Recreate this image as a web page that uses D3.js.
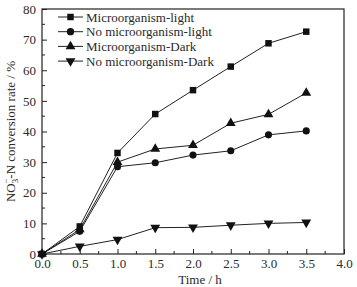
<!DOCTYPE html>
<html>
<head>
<meta charset="utf-8">
<script src="https://cdn.jsdelivr.net/npm/d3@7"></script>
<style>
  body { margin: 0; background: #fff; }
  svg text { font-family: "Liberation Serif", "Times New Roman", serif; fill: #2a2a2a; }
</style>
</head>
<body>
<div id="chart"></div>
<script>
// time points (h)
const times = [0, 0.5, 1.0, 1.5, 2.0, 2.5, 3.0, 3.5];

// conversion rates (%)
const microLight   = [0, 9.0, 33.0, 45.7, 53.5, 61.2, 68.8, 72.6];
const noMicroLight = [0, 7.4, 28.5, 29.8, 32.3, 33.7, 38.9, 40.2];
const microDark    = [0, 8.0, 30.0, 34.3, 35.5, 42.7, 45.6, 52.6];
const noMicroDark  = [0, 2.5, 4.7, 8.6, 8.7, 9.4, 10.0, 10.3];

const seriesNames = ["Microorganism-light", "No microorganism-light", "Microorganism-Dark", "No microorganism-Dark"];
const seriesValues = [microLight, noMicroLight, microDark, noMicroDark];
const seriesSymbols = [d3.symbolSquare, d3.symbolCircle, d3.symbolTriangle, "down"];

const xTicks = [0, 0.5, 1.0, 1.5, 2.0, 2.5, 3.0, 3.5, 4.0];
const yTicks = [0, 10, 20, 30, 40, 50, 60, 70, 80];

const W = 357, H = 287;
const margin = { top: 9, right: 13, bottom: 33, left: 42 };
const width = W - margin.left - margin.right;
const height = H - margin.top - margin.bottom;

const svg = d3.select("#chart").append("svg")
    .attr("width", W)
    .attr("height", H);

const g = svg.append("g")
    .attr("transform", `translate(${margin.left},${margin.top})`);

const x = d3.scaleLinear().domain([0, 4]).range([0, width]);
const y = d3.scaleLinear().domain([0, 80]).range([height, 0]);

// minor ticks
const xMinor = d3.range(0.25, 4, 0.5);
const yMinor = d3.range(5, 80, 10);

g.selectAll(".xminor").data(xMinor).enter().append("line")
    .attr("x1", d => x(d)).attr("x2", d => x(d))
    .attr("y1", height).attr("y2", height - 3)
    .attr("stroke", "#222");
g.selectAll(".yminor").data(yMinor).enter().append("line")
    .attr("x1", 0).attr("x2", 3)
    .attr("y1", d => y(d)).attr("y2", d => y(d))
    .attr("stroke", "#222");

// axes with inward ticks
const xAxis = g.append("g")
    .attr("transform", `translate(0,${height})`)
    .call(d3.axisBottom(x).tickValues(xTicks).tickFormat(d3.format(".1f")).tickSizeInner(-5).tickSizeOuter(0).tickPadding(5));
const yAxis = g.append("g")
    .call(d3.axisLeft(y).tickValues(yTicks).tickSizeInner(-5).tickSizeOuter(0).tickPadding(6));

[xAxis, yAxis].forEach(a => {
    a.select(".domain").remove();
    a.selectAll("line").attr("stroke", "#222");
    a.selectAll("text").style("font-size", "13px").attr("fill", "#2a2a2a");
});

// frame
g.append("rect")
    .attr("width", width).attr("height", height)
    .attr("fill", "none").attr("stroke", "#222").attr("stroke-width", 1.2);

const line = d3.line()
    .x((d, i) => x(times[i]))
    .y(d => y(d));

function symbolPath(s, size) {
    if (s === "down") {
        return d3.symbol().type(d3.symbolTriangle).size(size)();
    }
    return d3.symbol().type(s).size(size)();
}

seriesValues.forEach((vals, k) => {
    g.append("path")
        .datum(vals)
        .attr("fill", "none")
        .attr("stroke", "#222")
        .attr("stroke-width", 1)
        .attr("d", line);

    g.selectAll(".m" + k).data(vals).enter().append("path")
        .attr("transform", (d, i) => `translate(${x(times[i])},${y(d)})` + (seriesSymbols[k] === "down" ? " rotate(180)" : ""))
        .attr("d", symbolPath(seriesSymbols[k], seriesSymbols[k] === d3.symbolCircle ? 40 : 42))
        .attr("fill", "#111");
});

// legend
const legend = g.append("g").attr("transform", "translate(16,8)");
seriesNames.forEach((name, k) => {
    const row = legend.append("g").attr("transform", `translate(0,${k * 14.7})`);
    row.append("line").attr("x1", 0).attr("x2", 25).attr("y1", 0).attr("y2", 0)
        .attr("stroke", "#222");
    row.append("path")
        .attr("transform", "translate(12.5,0)" + (seriesSymbols[k] === "down" ? " rotate(180)" : ""))
        .attr("d", symbolPath(seriesSymbols[k], 42))
        .attr("fill", "#111");
    row.append("text")
        .attr("x", 28).attr("y", 0).attr("dy", "0.35em")
        .style("font-size", "13px")
        .text(name);
});

// axis titles
svg.append("text")
    .attr("x", 200).attr("y", 284)
    .attr("text-anchor", "middle")
    .style("font-size", "13px")
    .text("Time / h");

const yl = svg.append("text")
    .attr("transform", `translate(15,${margin.top + height / 2}) rotate(-90)`)
    .attr("text-anchor", "middle")
    .style("font-size", "13px");
yl.append("tspan").text("NO");
yl.append("tspan").attr("dy", 3).style("font-size", "9px").text("3");
yl.append("tspan").attr("dy", -9).attr("dx", -5).style("font-size", "9px").text("\u2212");
yl.append("tspan").attr("dy", 6).text("-N conversion rate / %");
</script>
</body>
</html>
